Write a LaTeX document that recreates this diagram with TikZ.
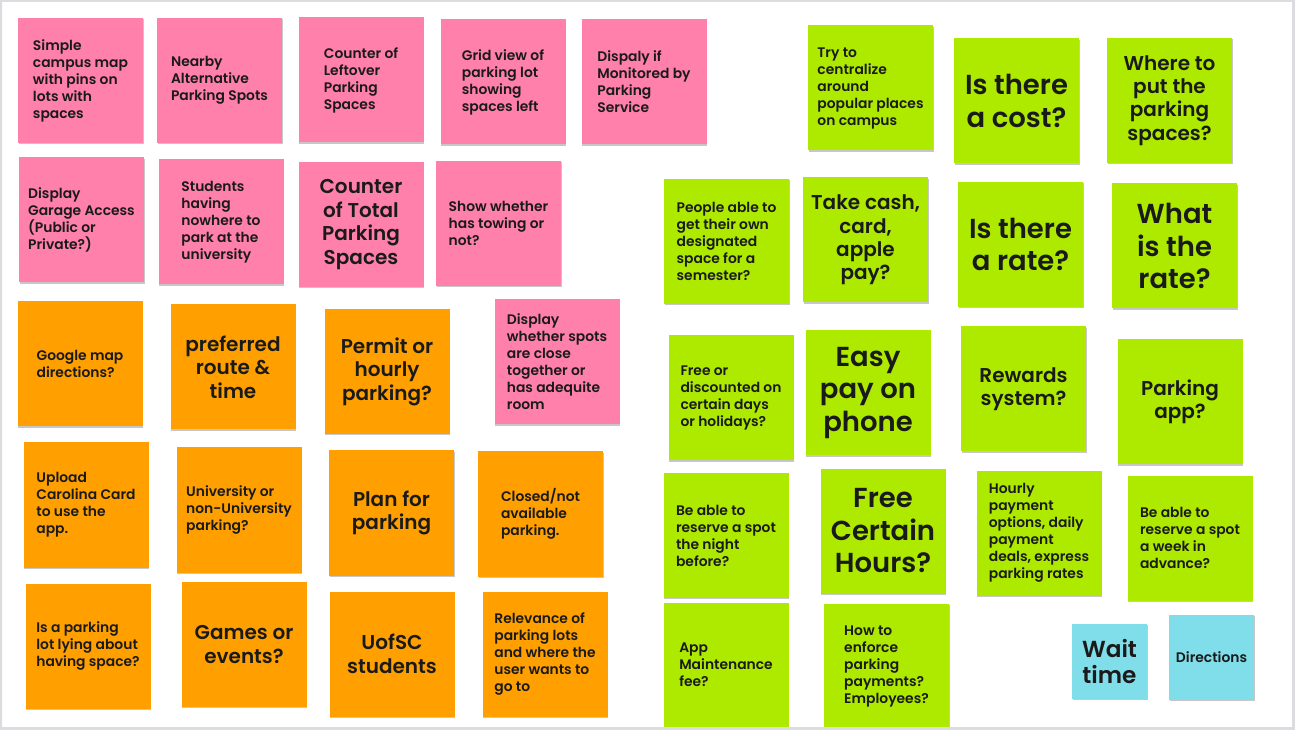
\documentclass[tikz,border=0pt]{standalone}
\usepackage{fontspec}
\newfontfamily\stickyfont{Poppins SemiBold}
\usetikzlibrary{shadows}
\definecolor{spink}{HTML}{FF80AB}
\definecolor{sorange}{HTML}{FFA000}
\definecolor{sgreen}{HTML}{AEEA00}
\definecolor{scyan}{HTML}{80DEEA}
\definecolor{frame}{HTML}{DADCE0}
\definecolor{ink}{HTML}{1A1A1A}
\tikzset{
  sticky/.style={minimum width=93.75pt, minimum height=93.75pt, inner sep=0pt,
    drop shadow={shadow xshift=0.4pt, shadow yshift=-1.1pt, opacity=0.22, fill=black},
    text=ink},
  small/.style={align=left, font=\stickyfont\fontsize{10.4}{12.75}\selectfont},
  medium/.style={align=center, font=\stickyfont\fontsize{15}{17.6}\selectfont},
  large/.style={align=center, font=\stickyfont\fontsize{20.6}{24.4}\selectfont},
  waitfont/.style={align=center, font=\stickyfont\fontsize{17.4}{20.2}\selectfont},
  pinkbox/.style={sticky, fill=spink},
  orangebox/.style={sticky, fill=sorange},
  greenbox/.style={sticky, fill=sgreen},
  cyanbox/.style={sticky, fill=scyan}
}
\begin{document}
\begin{tikzpicture}[x=0.75pt, y=-0.75pt]
\useasboundingbox (0,0) rectangle (1295,730);
\fill[white] (0,0) rectangle (1295,730);
% pink
\node[pinkbox, small] (p1) at (80.5,80.5) {Simple\\campus map\\with pins on\\lots with\\spaces};
\node[pinkbox, small] (p2) at (219.5,80.5) {Nearby\\Alternative\\Parking Spots};
\node[pinkbox, small] (p3) at (361,80) {Counter of\\Leftover\\Parking\\Spaces};
\node[pinkbox, small] (p4) at (503,82) {Grid view of\\parking lot\\showing\\spaces left};
\node[pinkbox, small] (p5) at (644,82) {Dispaly if\\Monitored by\\Parking\\Service};
\node[pinkbox, small] (p6) at (81.5,220) {Display\\Garage Access\\(Public or\\Private?)};
\node[pinkbox, small] (p7) at (221,222) {Students\\having\\nowhere to\\park at the\\university};
\node[pinkbox, medium] (p8) at (361,224.5) {Counter\\of Total\\Parking\\Spaces};
\node[pinkbox, small] (p9) at (498.5,223.5) {Show whether\\has towing or\\not?};
\node[pinkbox, small] (p10) at (557,362) {Display\\whether spots\\are close\\together or\\has adequite\\room};
% orange
\node[orangebox, small] (o1) at (80,364) {Google map\\directions?};
\node[orangebox, medium] (o2) at (233,367) {preferred\\route \&\\time};
\node[orangebox, medium] (o3) at (387,371.5) {Permit or\\hourly\\parking?};
\node[orangebox, small] (o4) at (86,505) {Upload\\Carolina Card\\to use the\\app.};
\node[orangebox, small] (o5) at (239,510) {University or\\non-University\\parking?};
\node[orangebox, medium] (o6) at (391.5,513) {Plan for\\parking};
\node[orangebox, small] (o7) at (540.5,514) {Closed/not\\available\\parking.};
\node[orangebox, small] (o8) at (88,646) {Is a parking\\lot lying about\\having space?};
\node[orangebox, medium] (o9) at (244,644.5) {Games or\\events?};
\node[orangebox, medium] (o10) at (392,654) {UofSC\\students};
\node[orangebox, small] (o11) at (545,654) {Relevance of\\parking lots\\and where the\\user wants to\\go to};
% green
\node[greenbox, small] (g1) at (870.5,88) {Try to\\centralize\\around\\popular places\\on campus};
\node[greenbox, large] (g2) at (1016.5,101) {Is there\\a cost?};
\node[greenbox, medium] (g3) at (1169.5,100.5) {Where to\\put the\\parking\\spaces?};
\node[greenbox, small] (g4) at (726.5,241.5) {People able to\\get their own\\designated\\space for a\\semester?};
\node[greenbox, medium] (g5) at (865.5,240) {Take cash,\\card,\\apple\\pay?};
\node[greenbox, large] (g6) at (1020.5,244.5) {Is there\\a rate?};
\node[greenbox, large] (g7) at (1174.5,246) {What\\is the\\rate?};
\node[greenbox, small] (g8) at (731,398) {Free or\\discounted on\\certain days\\or holidays?};
\node[greenbox, large] (g9) at (868,393) {Easy\\pay on\\phone};
\node[greenbox, medium] (g10) at (1023.5,389) {Rewards\\system?};
\node[greenbox, medium] (g11) at (1180,402) {Parking\\app?};
\node[greenbox, small] (g12) at (726,535.5) {Be able to\\reserve a spot\\the night\\before?};
\node[greenbox, large] (g13) at (883,531) {Free\\Certain\\Hours?};
\node[greenbox, small] (g14) at (1039,533) {Hourly\\payment\\options, daily\\payment\\deals, express\\parking rates};
\node[greenbox, small] (g15) at (1190,538) {Be able to\\reserve a spot\\a week in\\advance?};
\node[greenbox, small] (g16) at (726,665) {App\\Maintenance\\fee?};
\node[greenbox, small] (g17) at (886.5,666) {How to\\enforce\\parking\\payments?\\Employees?};
% cyan
\node[cyanbox, waitfont, minimum width=56.25pt, minimum height=56.25pt] (c1) at (1109.5,661.5) {Wait\\time};
\node[cyanbox, small, minimum width=63.75pt, minimum height=63.75pt] (c2) at (1211.5,657.5) {Directions};
% frame
\fill[frame, even odd rule] (0,0) rectangle (1295,730) (2,2) rectangle (1292,727);
\end{tikzpicture}
\end{document}
